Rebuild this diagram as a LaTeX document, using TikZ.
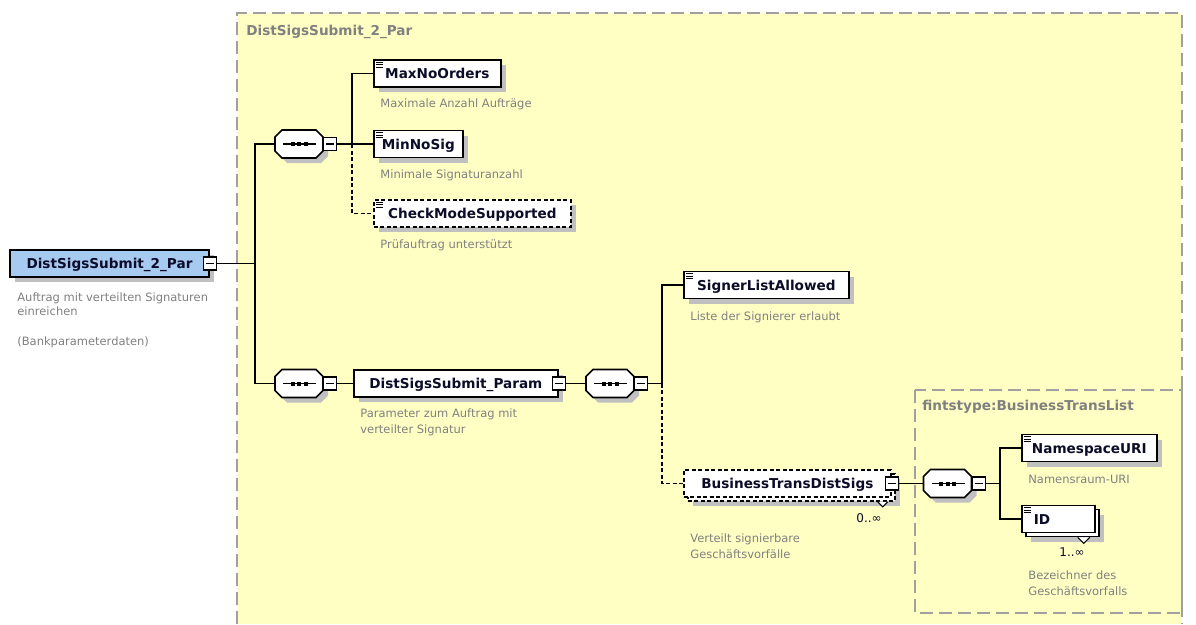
\documentclass[tikz,border=0pt]{standalone}
\usepackage{fontspec}
\setmainfont{DejaVu Sans}
\usetikzlibrary{shadows}

\definecolor{typefill}{RGB}{255,255,196}
\definecolor{framegray}{RGB}{160,160,160}
\definecolor{descgray}{RGB}{128,128,128}
\definecolor{shadegray}{RGB}{192,192,192}
\definecolor{rootblue}{RGB}{166,202,240}
\definecolor{labelink}{RGB}{12,12,40}

\tikzset{every picture/.style={line width=0.75pt}}
\tikzset{
  elembox/.style={draw, fill=white, line width=1.7pt, text=labelink,
    font=\fontsize{13.6}{16}\selectfont\bfseries, minimum height=27pt,
    inner sep=0pt, text height=10pt, text depth=0pt},
  dropshade/.style={general shadow={fill=shadegray, shadow xshift=5pt, shadow yshift=-5pt}},
  optbox/.style={dash pattern=on 4pt off 2.5pt},
  seqsym/.style={minimum width=48pt, minimum height=28pt, inner sep=0pt, outer sep=0pt},
  minusbox/.style={draw, fill=white, line width=1.2pt, minimum size=13pt, inner sep=0pt,
    path picture={\draw[line width=1.2pt] ([xshift=-4pt]path picture bounding box.center) -- ([xshift=4pt]path picture bounding box.center);}},
  desc/.style={anchor=west, inner sep=0pt, align=left, text=descgray,
    font=\fontsize{11.5}{16}\selectfont},
  boxtitle/.style={anchor=west, inner sep=0pt, text=descgray,
    font=\fontsize{13.6}{16}\selectfont\bfseries},
  wire/.style={line width=1.6pt},
  optwire/.style={line width=1.6pt, dash pattern=on 4pt off 2.5pt},
  typeframe/.style={draw=framegray, line width=1.5pt, dash pattern=on 13pt off 6pt},
  occurs/.style={inner sep=0pt, text=labelink, font=\fontsize{12}{14}\selectfont}
}
% element icon in the top left corner
\newcommand{\elmark}[1]{%
  \draw[line width=1pt] ([shift={(3,3)}]#1.north west) -- ++(7,0)
    ([shift={(3,5.5)}]#1.north west) -- ++(7,0)
    ([shift={(3,8)}]#1.north west) -- ++(7,0);}
% octagon of a sequence, shifted by (#2,#3)
\newcommand{\octpath}[3]{([shift={(7+#2,#3)}]#1.north west) -- ([shift={(-7+#2,#3)}]#1.north east)
  -- ([shift={(#2,7+#3)}]#1.north east) -- ([shift={(#2,-7+#3)}]#1.south east)
  -- ([shift={(-7+#2,#3)}]#1.south east) -- ([shift={(7+#2,#3)}]#1.south west)
  -- ([shift={(#2,-7+#3)}]#1.south west) -- ([shift={(#2,7+#3)}]#1.north west) -- cycle}
\newcommand{\seqshape}[1]{%
  \fill[shadegray] \octpath{#1}{5}{5};
  \draw[fill=white, line width=1.7pt] \octpath{#1}{0}{0};
  \draw[line width=1.3pt] ([xshift=-16pt]#1.center) -- ([xshift=17pt]#1.center);
  \foreach \d in {-6.5,0,6.5}
    \fill ([xshift=\d pt]#1.center) +(-2,-2) rectangle +(2,2);}

\begin{document}
\begin{tikzpicture}[x=1pt,y=1pt,yscale=-1]
\useasboundingbox (0,0) rectangle (1196,624);
%Shape: complex type frame
\fill[typefill] (237,13) rectangle (1182,624);
\draw[typeframe] (237,624) -- (237,13) -- (1182,13) -- (1182,624);
\node[boxtitle] (outertitle) at (246,32) {DistSigsSubmit\_2\_Par};
%Shape: inner type frame
\draw[typeframe] (915,390) rectangle (1182,613);
\node[boxtitle] (innertitle) at (922,407) {fintstype:BusinessTransList};

% root element
\node[elembox, fill=rootblue, minimum width=199pt, dropshade] (root) at (109.5,263.5) {DistSigsSubmit\_2\_Par};
\node[minusbox] (rootmin) at (root.east) {};
\node[desc, font=\fontsize{11.5}{14}\selectfont] (rootdesc) at (17,304) {Auftrag mit verteilten Signaturen\\einreichen};
\node[desc] (rootnote) at (17,342) {(Bankparameterdaten)};

% sequences
\node[seqsym] (seqA) at (299,144) {};
\seqshape{seqA}
\node[minusbox, anchor=west] (seqAmin) at (seqA.east) {};
\node[seqsym] (seqB) at (299,383.5) {};
\seqshape{seqB}
\node[minusbox, anchor=west] (seqBmin) at (seqB.east) {};
\node[seqsym] (seqC) at (610,383.5) {};
\seqshape{seqC}
\node[minusbox, anchor=west] (seqCmin) at (seqC.east) {};
\node[seqsym] (seqD) at (947.5,483.5) {};
\seqshape{seqD}
\node[minusbox, anchor=west] (seqDmin) at (seqD.east) {};

% first sequence children
\node[elembox, dropshade, anchor=west, minimum width=127pt] (maxno) at (373,73.5) {MaxNoOrders};
\elmark{maxno}
\node[desc] (maxnodesc) at (380,104) {Maximale Anzahl Aufträge};
\node[elembox, dropshade, anchor=west, minimum width=89pt] (minno) at (373,144) {MinNoSig};
\elmark{minno}
\node[desc] (minnodesc) at (380,175) {Minimale Signaturanzahl};
\node[elembox, optbox, dropshade, anchor=west, minimum width=197pt] (checkmode) at (373,213.5) {CheckModeSupported};
\elmark{checkmode}
\node[desc] (checkdesc) at (380,245) {Prüfauftrag unterstützt};

% parameter element
\node[elembox, dropshade, anchor=west, minimum width=204pt] (param) at (353,383.5) {DistSigsSubmit\_Param};
\node[minusbox] (parammin) at (param.east) {};
\node[desc] (paramdesc) at (360,422.5) {Parameter zum Auftrag mit\\verteilter Signatur};

\node[elembox, dropshade, anchor=west, minimum width=165pt] (signer) at (683,285) {SignerListAllowed};
\elmark{signer}
\node[desc] (signerdesc) at (690,317) {Liste der Signierer erlaubt};

\node[elembox, optbox, dropshade, anchor=west, minimum width=207pt] (bustransbk) at (687,487.5) {};
\draw[line width=1pt, fill=white] ([xshift=-18pt]bustransbk.south east) -- ++(5,5) -- ++(5,-5);
\node[elembox, optbox, anchor=west, minimum width=207pt] (bustrans) at (683,483.5) {BusinessTransDistSigs};
\node[minusbox] (bustransmin) at (bustrans.east) {};
\node[occurs] (bustransocc) at (869,518) {0..∞};
\node[desc] (bustransdesc) at (690,546.5) {Verteilt signierbare\\Geschäftsvorfälle};

% business transaction list
\node[elembox, dropshade, anchor=west, minimum width=135pt] (nsuri) at (1021,448) {NamespaceURI};
\elmark{nsuri}
\node[desc] (nsuridesc) at (1028,479) {Namensraum-URI};
\node[elembox, dropshade, anchor=west, minimum width=73pt] (idback) at (1025,523) {};
\draw[line width=1pt, fill=white] ([xshift=-22pt]idback.south east) -- ++(6,6) -- ++(6,-6);
\node[elembox, anchor=west, text width=49pt, inner xsep=12pt, align=left] (idel) at (1021,519) {ID};
\elmark{idel}
\node[occurs] (idocc) at (1072,552) {1..∞};
\node[desc] (iddesc) at (1028,583) {Bezeichner des\\Geschäftsvorfalls};

% connectors
\coordinate (busroot) at (255,263.5);
\draw[wire] (rootmin.east) -- (busroot);
\draw[wire] (busroot) |- (seqA.west);
\draw[wire] (busroot) |- (seqB.west);
\coordinate (busA) at (352,144);
\draw[wire] (seqAmin.east) -- (busA);
\draw[wire] (busA) |- (maxno.west);
\draw[wire] (busA) -- (minno.west);
\draw[optwire] (busA) |- (checkmode.west);
\draw[wire] (seqBmin.east) -- (param.west);
\draw[wire] (parammin.east) -- (seqC.west);
\coordinate (busC) at (662,383.5);
\draw[wire] (seqCmin.east) -- (busC);
\draw[wire] (busC) |- (signer.west);
\draw[optwire] (busC) |- (bustrans.west);
\draw[wire] (bustransmin.east) -- (seqD.west);
\coordinate (busD) at (1000,483.5);
\draw[wire] (seqDmin.east) -- (busD);
\draw[wire] (busD) |- (nsuri.west);
\draw[wire] (busD) |- (idel.west);

\end{tikzpicture}
\end{document}
